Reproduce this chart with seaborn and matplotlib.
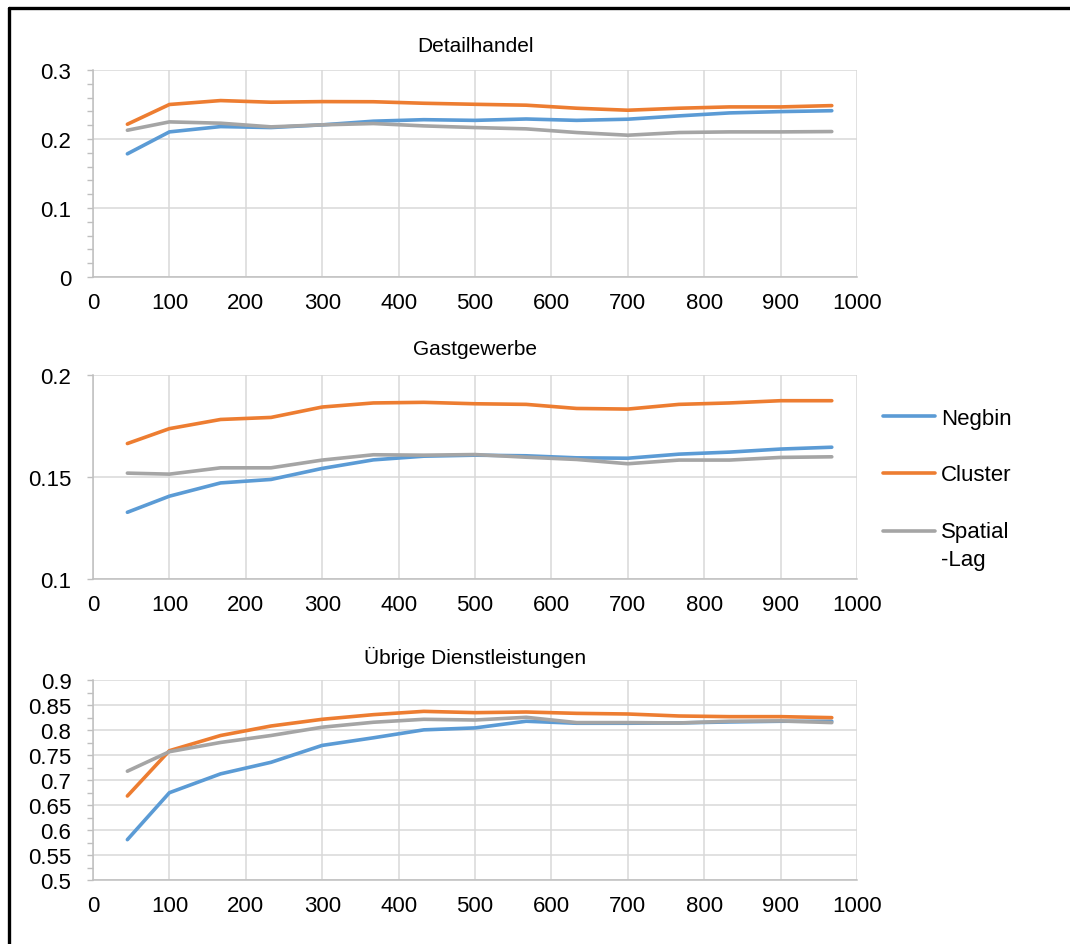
import numpy as np
import pandas as pd
import seaborn as sns
import matplotlib.pyplot as plt
from matplotlib.lines import Line2D
from matplotlib.legend_handler import HandlerLine2D
from matplotlib.ticker import MultipleLocator, FuncFormatter

# x positions of the measurements
distance = [45, 100, 167, 233, 300, 367, 433, 500, 567, 633, 700, 767, 833, 900, 967]
models = ['Negbin', 'Cluster', 'Spatial\n-Lag']
colors = ['#5B9BD5', '#ED7D31', '#A5A5A5']

# Detailhandel
detail_negbin = [0.1785, 0.2103, 0.218, 0.2166, 0.2205, 0.2258, 0.228, 0.227, 0.229,
                 0.227, 0.2287, 0.2335, 0.2378, 0.2397, 0.241]
detail_cluster = [0.2214, 0.250, 0.2557, 0.2533, 0.2542, 0.254, 0.2518, 0.2503, 0.249,
                  0.2446, 0.2417, 0.2446, 0.2465, 0.2465, 0.2484]
detail_spatial = [0.2127, 0.2248, 0.2229, 0.2176, 0.2205, 0.2224, 0.219, 0.2166, 0.2147,
                  0.2094, 0.2055, 0.2094, 0.2103, 0.2103, 0.2108]

# Gastgewerbe
gast_negbin = [0.1327, 0.1406, 0.1471, 0.1488, 0.1542, 0.1584, 0.1602, 0.1607, 0.1604,
               0.1594, 0.1592, 0.1612, 0.1622, 0.1637, 0.1646]
gast_cluster = [0.1664, 0.1737, 0.1782, 0.1792, 0.1843, 0.1863, 0.1866, 0.1859, 0.1856,
                0.1836, 0.1833, 0.1856, 0.1863, 0.1874, 0.1874]
gast_spatial = [0.1519, 0.1514, 0.1545, 0.1545, 0.1583, 0.1609, 0.1607, 0.1610, 0.1597,
                0.1586, 0.1565, 0.1583, 0.1583, 0.1596, 0.1599]

# Übrige Dienstleistungen
dienst_negbin = [0.5807, 0.6746, 0.7123, 0.7354, 0.7692, 0.7844, 0.8003, 0.8042, 0.8175,
                 0.8135, 0.8135, 0.8141, 0.8161, 0.8175, 0.8175]
dienst_cluster = [0.668, 0.7586, 0.789, 0.808, 0.8214, 0.8307, 0.8373, 0.8347, 0.836,
                  0.8333, 0.832, 0.828, 0.8267, 0.8267, 0.8247]
dienst_spatial = [0.7176, 0.7566, 0.7751, 0.789, 0.8056, 0.8155, 0.8214, 0.820, 0.8254,
                  0.8148, 0.8148, 0.8141, 0.8175, 0.8181, 0.8148]

panels = [
    ('Detailhandel', [detail_negbin, detail_cluster, detail_spatial], (0, 0.3), 0.1, 0.02, 14),
    ('Gastgewerbe', [gast_negbin, gast_cluster, gast_spatial], (0.1, 0.2), 0.05, None, 15),
    ('Übrige Dienstleistungen', [dienst_negbin, dienst_cluster, dienst_spatial], (0.5, 0.9), 0.05, 0.025, 12),
]


class FirstLineHandler(HandlerLine2D):
    # put the handle next to the first line of a two-line label
    def create_artists(self, legend, orig_handle, xdescent, ydescent, width, height, fontsize, trans):
        artists = super().create_artists(legend, orig_handle, xdescent, ydescent,
                                         width, height, fontsize, trans)
        for a in artists:
            a.set_ydata(np.asarray(a.get_ydata()) + 0.68 * fontsize)
        return artists


sns.set_theme(style='white')
plt.rcParams['font.family'] = ['Liberation Sans', 'DejaVu Sans']
plt.rcParams['text.color'] = 'black'
plt.rcParams['axes.titlecolor'] = 'black'

fig = plt.figure(figsize=(10.7, 9.45), dpi=100)
W, H = 1070, 945
boxes = [(71, 278), (376, 580), (681, 881)]  # top, bottom in pixels
left, right = 93, 857

for i, ((title, series, ylim, major, minor, tpad), (top, bot)) in enumerate(zip(panels, boxes)):
    ax = fig.add_axes([left / W, 1 - bot / H, (right - left) / W, (bot - top) / H])
    df = pd.DataFrame({
        'distance': distance * 3,
        'value': np.concatenate(series),
        'model': np.repeat(models, len(distance)),
    })
    sns.lineplot(data=df, x='distance', y='value', hue='model', hue_order=models,
                 palette=colors, linewidth=2.6, ax=ax, legend=(i == 1))
    ax.set_xlim(0, 1000)
    ax.set_ylim(*ylim)
    ax.xaxis.set_major_locator(MultipleLocator(100))
    ax.yaxis.set_major_locator(MultipleLocator(major))
    if minor:
        ax.yaxis.set_minor_locator(MultipleLocator(minor))
    ax.yaxis.set_major_formatter(FuncFormatter(lambda v, p: f'{v:g}'))
    ax.grid(True, which='major', color='#d9d9d9', linewidth=1.1)
    ax.set_axisbelow(True)
    for s in ['top', 'right']:
        ax.spines[s].set_visible(False)
    for s in ['left', 'bottom']:
        ax.spines[s].set_color('#bfbfbf')
        ax.spines[s].set_linewidth(1.1)
    ax.tick_params(axis='y', which='both', direction='out', length=4.5, width=1,
                   color='#bfbfbf', labelcolor='black', labelsize=16, pad=11, left=True)
    ax.tick_params(axis='x', length=0, labelsize=16, pad=11, labelcolor='black')
    ax.set_xlabel('')
    ax.set_ylabel('')
    ax.set_title(title, fontsize=15, pad=tpad, color='black')

    if i == 1:
        leg = ax.get_legend()
        handles = leg.legend_handles
        labels = [t.get_text() for t in leg.get_texts()]
        leg.remove()
        new_leg = ax.legend(handles, labels, loc='center left',
                            bbox_to_anchor=(883 / W, 1 - 490 / H), bbox_transform=fig.transFigure,
                            frameon=False, fontsize=16, borderpad=0, borderaxespad=0,
                            handlelength=2.35, handletextpad=0.25, labelspacing=1.6,
                            handler_map={handles[2]: FirstLineHandler()})
        for t in new_leg.get_texts():
            t.set_linespacing(1.45)
        for h in new_leg.legend_handles:
            h.set_linewidth(2.6)

# outer frame (left and top)
fig.add_artist(Line2D([9 / W, 9 / W], [0, 1 - 9 / H], transform=fig.transFigure,
                      color='black', linewidth=2.4))
fig.add_artist(Line2D([9 / W, 1], [1 - 9 / H, 1 - 9 / H], transform=fig.transFigure,
                      color='black', linewidth=2.4))

fig.savefig('out.png', dpi=100, facecolor='white')
